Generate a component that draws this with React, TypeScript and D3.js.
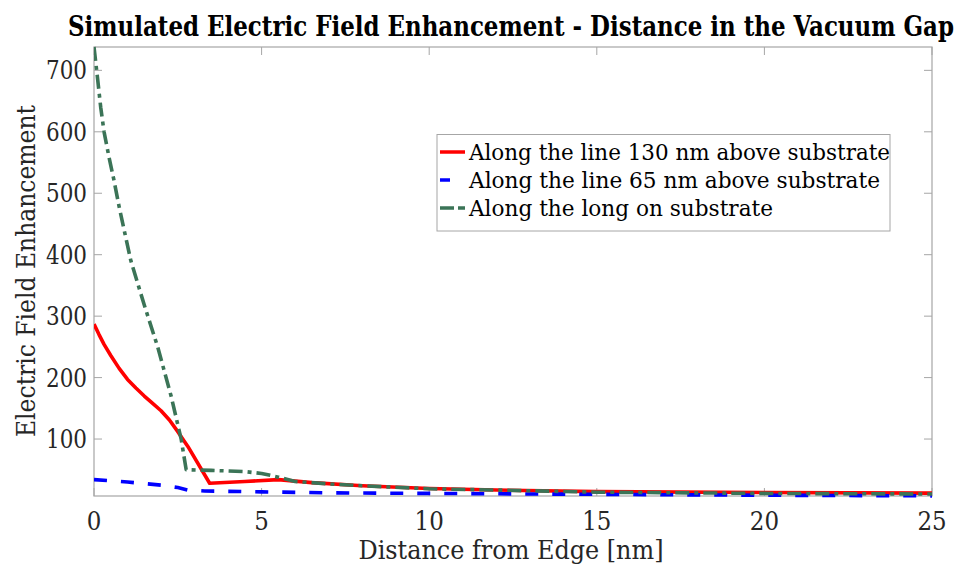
import React from "react";
import * as d3 from "d3";

const redX = [0, 0.15, 0.3, 0.5, 0.75, 1, 1.25, 1.5, 1.75, 2, 2.25, 2.5, 2.8, 3.45, 4.5, 5.5, 6.5, 8, 10, 12, 15, 20, 25];
const redY = [287, 270, 254, 236, 215, 197, 183, 170, 158, 146, 131, 112, 88, 28, 31, 34, 29, 24, 19.5, 17, 14.5, 13, 12];

const blueX = [0, 1, 2, 2.5, 2.8, 3.3, 5, 7, 10, 15, 20, 25];
const blueY = [34, 30, 25, 21, 17, 15.5, 14, 12.5, 11.5, 10, 8.5, 7.5];

const greenX = [0, 0.1, 0.2, 0.3, 0.45, 0.6, 0.75, 0.9, 1.1, 1.5, 1.9, 2.3, 2.6, 2.75, 3.5, 4.5, 5, 5.5, 6, 7, 8, 10, 12, 15, 20, 25];
const greenY = [738, 690, 640, 600, 558, 520, 478, 440, 390, 318, 250, 170, 100, 50, 49, 47, 44, 38, 31, 27, 24, 19, 17, 13.5, 11.5, 10.5];

const xTicks = [0, 5, 10, 15, 20, 25];
const yTicks = [100, 200, 300, 400, 500, 600, 700];

const seriesNames = [
  "Along the line 130 nm above substrate",
  "Along the line 65 nm above substrate",
  "Along the long on substrate",
];

const title = "Simulated Electric Field Enhancement - Distance in the Vacuum Gap";
const xLabel = "Distance from Edge [nm]";
const yLabel = "Electric Field Enhancement";

export default function App() {
  const W = 961, H = 566;
  const L = 94, R = 932, T = 47, B = 496;
  const x = d3.scaleLinear().domain([0, 25]).range([L, R]);
  const y = d3.scaleLinear().domain([7.3, 738]).range([B, T]);
  const mk = (xs: number[], ys: number[]) =>
    d3.line<number>().x((_, i) => x(xs[i])).y((_, i) => y(ys[i]))(xs) || "";

  const series = [
    { d: mk(redX, redY), color: "#ff0000", dash: "none" },
    { d: mk(blueX, blueY), color: "#0000ff", dash: "13,14" },
    { d: mk(greenX, greenY), color: "#3b7457", dash: "14,5,4,5" },
  ];
  const font = "DejaVu Serif Condensed, Liberation Serif, Times New Roman, serif";
  const axisColor = "#a6a6a6";
  const textColor = "#262626";
  const legendLens = [421, 411, 304];
  const legendDash = ["none", "10,40", "14,4,8,40"];
  const adj = "spacingAndGlyphs";

  return (
    <svg width={W} height={H} style={{ position: "absolute", left: 0, top: 0, background: "#fff", fontFamily: font }}>
      <rect x={0} y={0} width={W} height={H} fill="#fff" />
      <text x={511} y={36} textAnchor="middle" fontWeight="bold" fontSize={27}
        textLength={886} lengthAdjust={adj} fill="#000">{title}</text>
      <defs>
        <clipPath id="plot">
          <rect x={L} y={T - 2} width={R - L} height={B - T + 4} />
        </clipPath>
      </defs>
      {xTicks.map((t) => (
        <g key={"xt" + t}>
          <line x1={x(t)} x2={x(t)} y1={B} y2={B - 8} stroke={axisColor} strokeWidth={1} />
          <line x1={x(t)} x2={x(t)} y1={T} y2={T + 8} stroke={axisColor} strokeWidth={1} />
          <text x={x(t)} y={529.5} textAnchor="middle" fontSize={25.5} fill={textColor}>{t}</text>
        </g>
      ))}
      {yTicks.map((t) => (
        <g key={"yt" + t}>
          <line x1={L} x2={L + 8} y1={y(t)} y2={y(t)} stroke={axisColor} strokeWidth={1} />
          <line x1={R} x2={R - 8} y1={y(t)} y2={y(t)} stroke={axisColor} strokeWidth={1} />
          <text x={87} y={y(t) + 9} textAnchor="end" fontSize={25.5} fill={textColor}
            textLength={41} lengthAdjust={adj}>{t}</text>
        </g>
      ))}
      <rect x={L} y={T} width={R - L} height={B - T} fill="none" stroke={axisColor} strokeWidth={1.2} />
      <g clipPath="url(#plot)">
        {series.map((s, i) => (
          <path key={i} d={s.d} fill="none" stroke={s.color} strokeWidth={3.6}
            strokeDasharray={s.dash} strokeLinejoin="round" />
        ))}
      </g>
      <text x={511} y={559} textAnchor="middle" fontSize={26.5} fill={textColor}
        textLength={305} lengthAdjust={adj}>{xLabel}</text>
      <text transform={`translate(35, 271) rotate(-90)`} textAnchor="middle" fontSize={25.5} fill={textColor}
        textLength={332} lengthAdjust={adj}>{yLabel}</text>
      <rect x={437} y={134.5} width={453} height={96.5} fill="#fff" stroke={axisColor} strokeWidth={1} />
      {series.map((s, i) => {
        const base = 159.5 + i * 28;
        return (
          <g key={"lg" + i}>
            <line x1={440} x2={465} y1={base - 7.5} y2={base - 7.5} stroke={s.color} strokeWidth={3.5}
              strokeDasharray={legendDash[i]} />
            <text x={469} y={base} fontSize={22.5} fill="#000"
              textLength={legendLens[i]} lengthAdjust={adj}>{seriesNames[i]}</text>
          </g>
        );
      })}
    </svg>
  );
}
